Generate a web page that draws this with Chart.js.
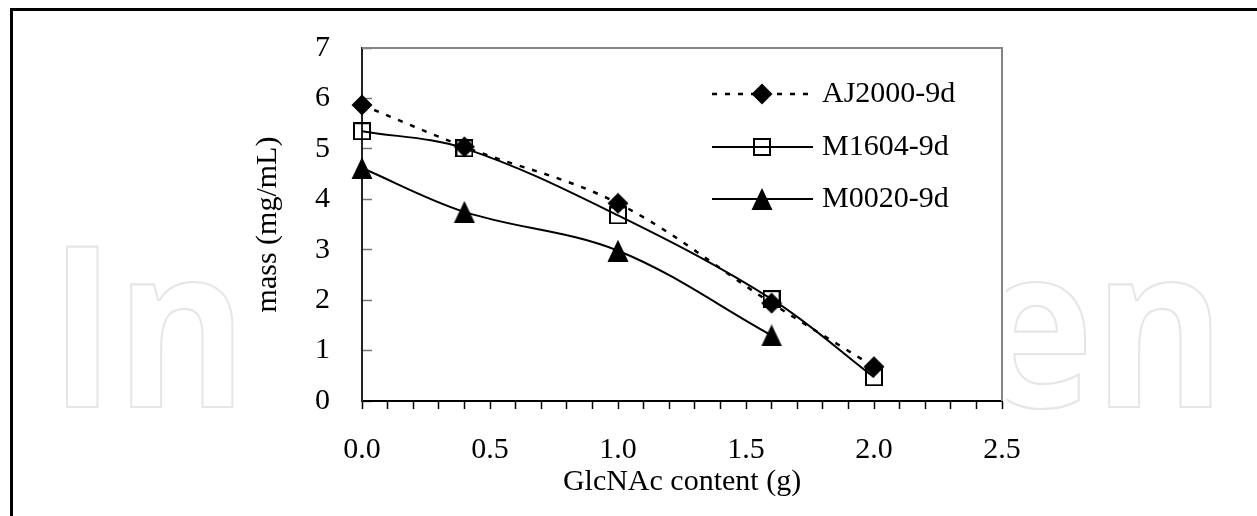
<!DOCTYPE html>
<html>
<head>
<meta charset="utf-8">
<script src="https://cdn.jsdelivr.net/npm/chart.js@4.4.0/dist/chart.umd.min.js"></script>
<style>
  html, body { margin: 0; padding: 0; background: #fff; }
  #wrap { position: relative; width: 1257px; height: 516px; }
</style>
</head>
<body>
<div id="wrap"><canvas id="massChart"></canvas></div>
<script>
// values
const glcnac = [0.0, 0.4, 1.0, 1.6, 2.0];
const aj2000 = [5.87, 5.04, 3.92, 1.94, 0.68];
const m1604 = [5.35, 5.01, 3.68, 2.02, 0.47];
const m0020 = [4.62, 3.75, 2.98, 1.30];
const seriesNames = ['AJ2000-9d', 'M1604-9d', 'M0020-9d'];
const xTickLabels = ['0.0', '0.5', '1.0', '1.5', '2.0', '2.5'];
const yTickLabels = ['0', '1', '2', '3', '4', '5', '6', '7'];

const serif = '"Liberation Serif", "Times New Roman", serif';
Chart.defaults.font.family = serif;
Chart.defaults.color = '#000';

function toPoints(ys) {
    return ys.map((y, i) => ({ x: glcnac[i], y: y }));
}

// marker images (excel style)
function makeDiamond() {
    const c = document.createElement('canvas');
    c.width = 22; c.height = 22;
    const g = c.getContext('2d');
    g.fillStyle = '#000';
    g.beginPath();
    g.moveTo(11, 0.5); g.lineTo(21.5, 11); g.lineTo(11, 21.5); g.lineTo(0.5, 11);
    g.closePath();
    g.fill();
    return c;
}
function makeSquare() {
    const c = document.createElement('canvas');
    c.width = 18; c.height = 18;
    const g = c.getContext('2d');
    g.strokeStyle = '#000';
    g.lineWidth = 2;
    g.strokeRect(1, 1, 16, 16);
    return c;
}
function makeTriangle() {
    const c = document.createElement('canvas');
    c.width = 22; c.height = 22;
    const g = c.getContext('2d');
    g.fillStyle = '#000';
    g.beginPath();
    g.moveTo(11, 0); g.lineTo(21.5, 22); g.lineTo(0.5, 22);
    g.closePath();
    g.fill();
    return c;
}

const markers = [makeDiamond(), makeSquare(), makeTriangle()];

// watermark + outer frame
const background = {
    id: 'background',
    beforeDraw(chart) {
        const ctx = chart.ctx;
        ctx.save();
        ctx.fillStyle = '#fff';
        ctx.fillRect(0, 0, chart.width, chart.height);

        // faint outlined watermark, ink stretched over x 67..1211
        ctx.font = '700 224px "Open Sans"';
        const tm = ctx.measureText('IntechOpen');
        const ink = tm.actualBoundingBoxLeft + tm.actualBoundingBoxRight;
        const s = (1211 - 67) / ink;
        ctx.translate(67 + tm.actualBoundingBoxLeft * s, 407);
        ctx.scale(s, 1);
        ctx.strokeStyle = '#e6e6e6';
        ctx.lineWidth = 2.2;
        ctx.strokeText('IntechOpen', 0, 0);
        ctx.setTransform(1, 0, 0, 1, 0, 0);

        // chart object hides the middle of it
        ctx.fillStyle = '#fff';
        ctx.fillRect(241, 12, 765, chart.height);
        ctx.restore();
    },
    beforeDatasetsDraw(chart) {
        const ctx = chart.ctx;
        const a = chart.chartArea;
        ctx.save();
        ctx.strokeStyle = '#858585';
        ctx.lineWidth = 2;
        ctx.beginPath();
        ctx.moveTo(a.left, a.top);
        ctx.lineTo(a.right, a.top);
        ctx.lineTo(a.right, a.bottom);
        ctx.stroke();
        ctx.restore();
    },
    afterDraw(chart) {
        const ctx = chart.ctx;
        ctx.save();
        ctx.strokeStyle = '#000';
        ctx.lineWidth = 3;
        ctx.beginPath();
        ctx.moveTo(11.5, chart.height);
        ctx.lineTo(11.5, 9.5);
        ctx.lineTo(chart.width, 9.5);
        ctx.stroke();
        ctx.restore();
    }
};

// legend sits inside the plot area, top right
const insideLegend = {
    id: 'insideLegend',
    afterDatasetsDraw(chart) {
        const ctx = chart.ctx;
        const rows = [94, 147, 199];
        ctx.save();
        chart.data.datasets.forEach((ds, i) => {
            const y = rows[i];
            ctx.strokeStyle = ds.borderColor;
            ctx.lineWidth = ds.borderWidth;
            ctx.setLineDash(ds.borderDash || []);
            ctx.beginPath();
            ctx.moveTo(712, y);
            ctx.lineTo(813, y);
            ctx.stroke();
            ctx.setLineDash([]);
            const m = ds.pointStyle;
            ctx.drawImage(m, 762 - m.width / 2, y - m.height / 2);
            ctx.fillStyle = '#000';
            ctx.font = '30px ' + serif;
            ctx.textBaseline = 'middle';
            ctx.textAlign = 'left';
            ctx.fillText(ds.label, 822, y);
        });
        ctx.restore();
    }
};

const ctx = document.getElementById('massChart');
new Chart(ctx, {
    type: 'line',
    data: {
        datasets: [
            {
                label: seriesNames[0],
                data: toPoints(aj2000),
                borderColor: '#000',
                borderWidth: 2.5,
                borderDash: [5, 8],
                pointStyle: markers[0],
                tension: 0.35,
                clip: false
            },
            {
                label: seriesNames[1],
                data: toPoints(m1604),
                borderColor: '#000',
                borderWidth: 2,
                pointStyle: markers[1],
                tension: 0.35,
                clip: false
            },
            {
                label: seriesNames[2],
                data: toPoints(m0020),
                borderColor: '#000',
                borderWidth: 2,
                pointStyle: markers[2],
                tension: 0.35,
                clip: false
            }
        ]
    },
    options: {
        responsive: true,
        maintainAspectRatio: false,
        animation: false,
        events: [],
        layout: { padding: { left: 0, right: 255, top: 48, bottom: 0 } },
        plugins: {
            legend: { display: false },
            tooltip: { enabled: false }
        },
        scales: {
            x: {
                type: 'linear',
                min: 0,
                max: 2.5,
                afterFit: (scale) => {
                    scale.height = 115;
                    scale.paddingLeft = 0;
                    scale.paddingRight = 0;
                },
                border: { display: true, color: '#000', width: 2 },
                grid: {
                    display: true,
                    drawOnChartArea: false,
                    drawTicks: true,
                    tickLength: 8,
                    tickColor: '#000',
                    tickWidth: 1.5
                },
                ticks: {
                    stepSize: 0.1,
                    autoSkip: false,
                    maxRotation: 0,
                    minRotation: 0,
                    padding: 23,
                    font: { size: 30 },
                    color: '#000',
                    callback: function (value) {
                        const k = Math.round(value * 2);
                        if (Math.abs(value * 2 - k) < 1e-6) return xTickLabels[k];
                        return '';
                    }
                },
                title: {
                    display: true,
                    text: 'GlcNAc content (g)',
                    font: { size: 30 },
                    color: '#000',
                    padding: { top: 0, bottom: 16 }
                }
            },
            y: {
                min: 0,
                max: 7,
                afterFit: (scale) => {
                    scale.width = 362;
                    scale.paddingTop = 0;
                    scale.paddingBottom = 0;
                },
                border: { display: true, color: '#222', width: 2 },
                grid: {
                    display: true,
                    drawOnChartArea: false,
                    drawTicks: true,
                    tickLength: -10,
                    tickColor: '#777',
                    tickWidth: 1.5
                },
                ticks: {
                    stepSize: 1,
                    padding: 42,
                    font: { size: 30 },
                    color: '#000',
                    callback: function (value) {
                        return yTickLabels[value];
                    }
                },
                title: {
                    display: true,
                    text: 'mass (mg/mL)',
                    font: { size: 30 },
                    color: '#000',
                    padding: { top: 250, bottom: 0 }
                }
            }
        }
    },
    plugins: [background, insideLegend]
});
</script>
</body>
</html>
